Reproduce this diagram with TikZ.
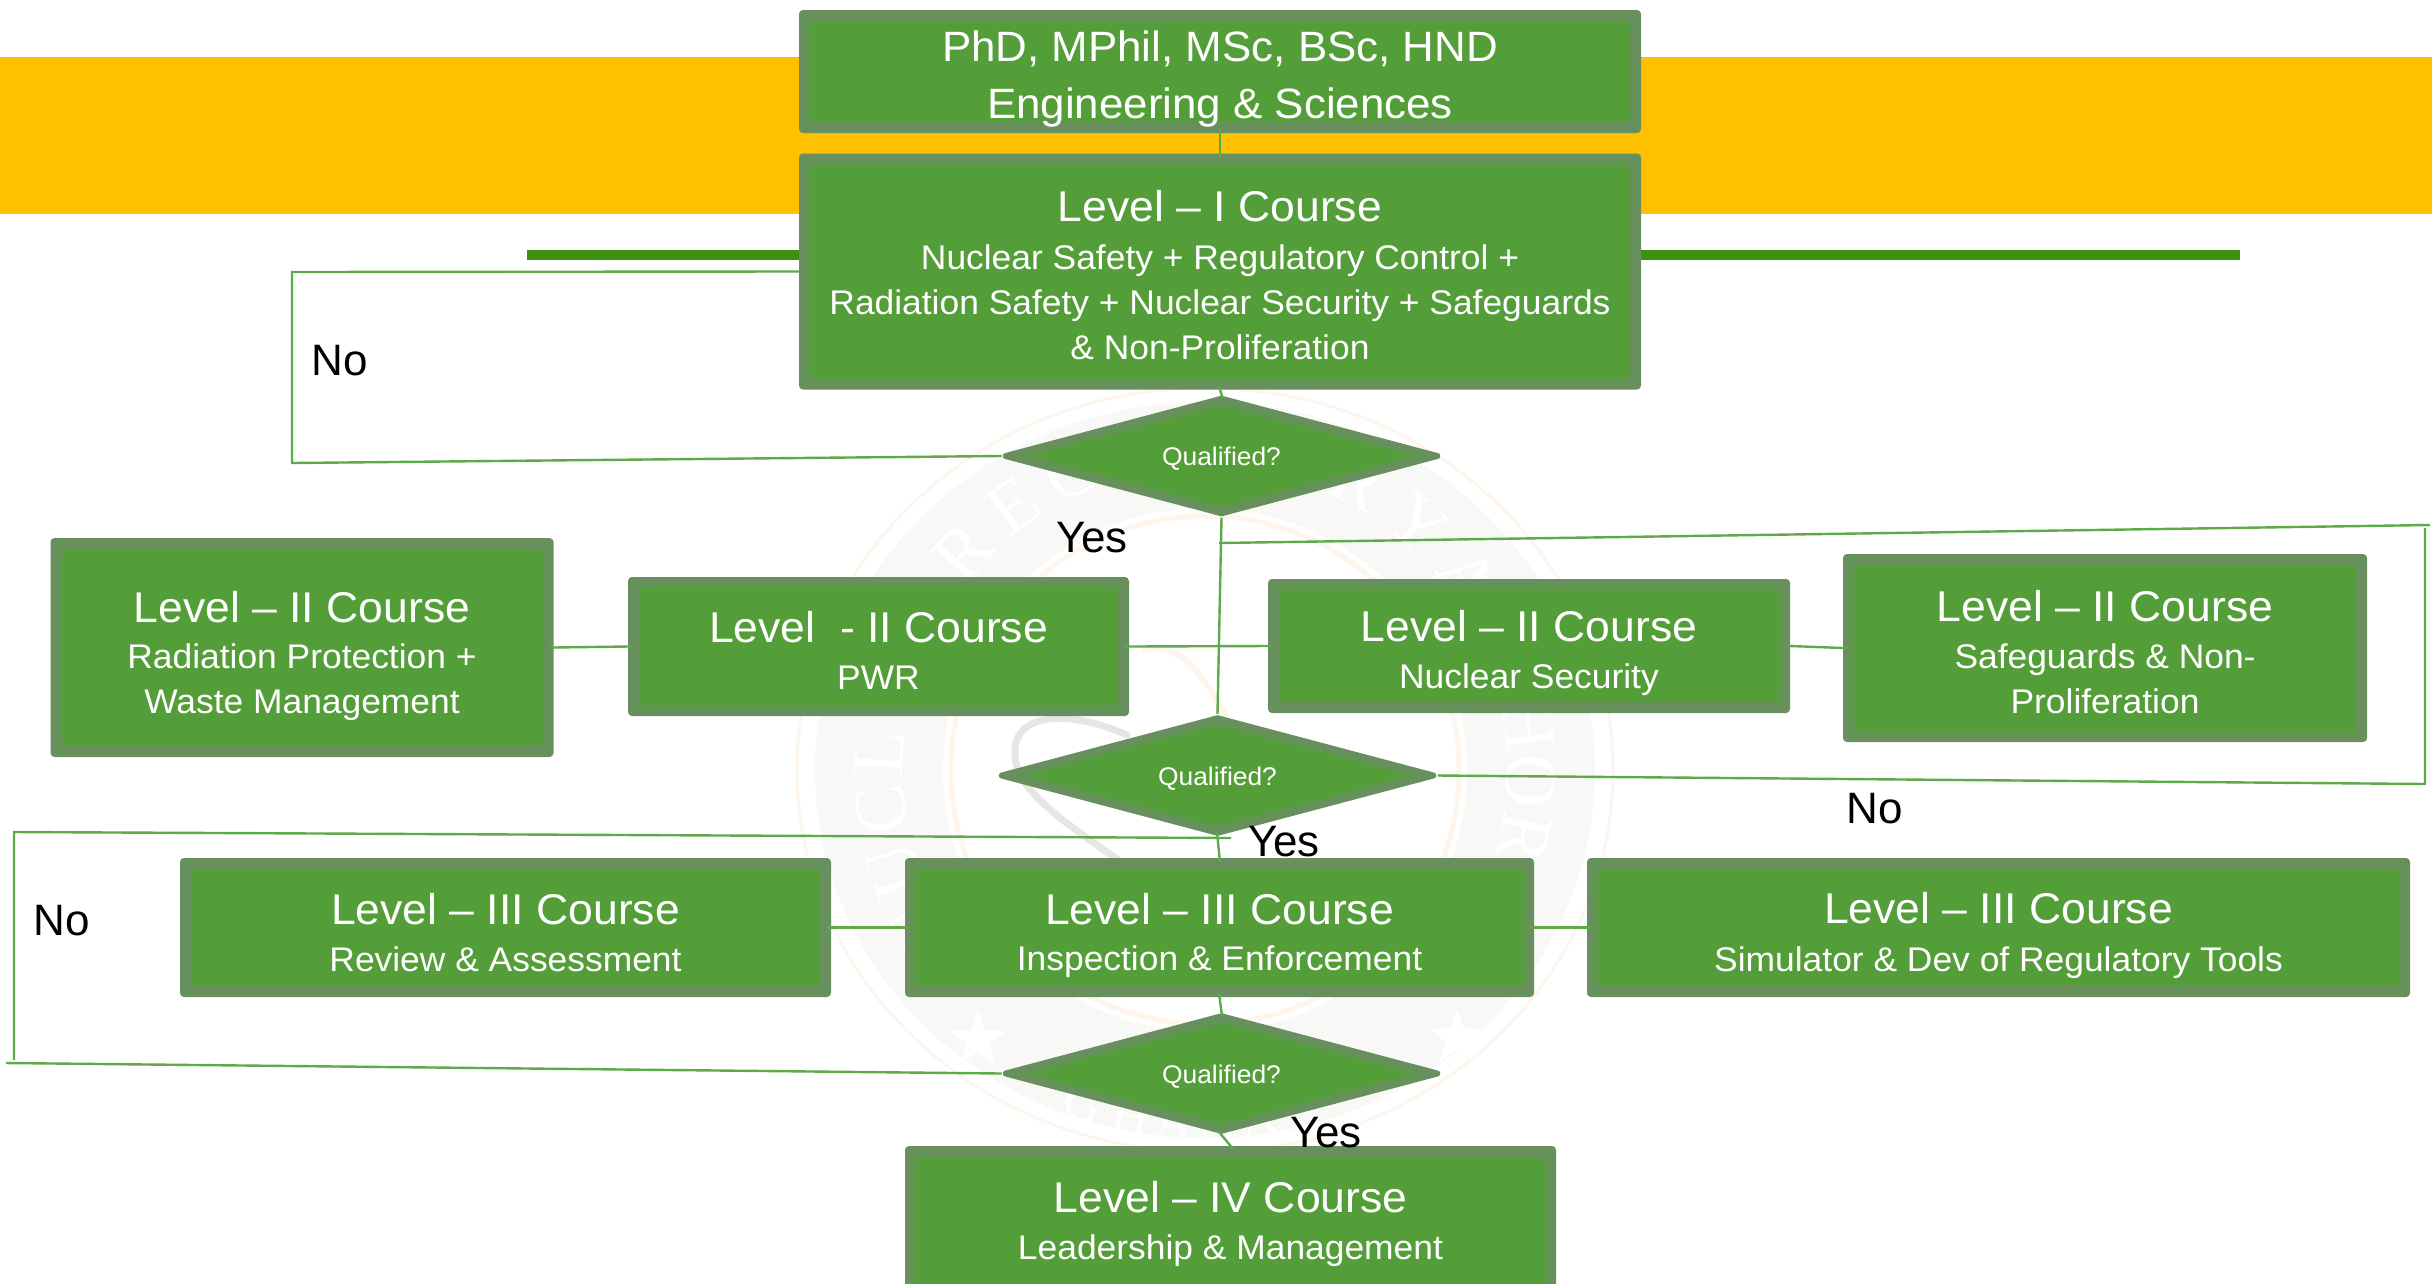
\documentclass[tikz,border=0pt]{standalone}
\usepackage{fontspec}
\setmainfont[FakeStretch=1.035]{Liberation Sans}
\newfontfamily\lblfont{Liberation Sans}
\newfontfamily\sealfont{Liberation Serif}
\usetikzlibrary{shapes.geometric,calc}
\definecolor{boxfill}{HTML}{549E39}
\definecolor{boxband}{HTML}{688F5E}
\definecolor{boxthin}{HTML}{5C9A46}
\definecolor{bandorange}{HTML}{FFC000}
\definecolor{bargreen}{HTML}{3D8F10}
\definecolor{connline}{HTML}{5CAA4A}
\definecolor{sealring}{HTML}{F8F9F6}
\definecolor{sealorange}{HTML}{FEF5EC}
\definecolor{sealatom}{HTML}{E6E6E4}
\newcommand{\LevHead}[1]{{\fontsize{43}{45}\selectfont #1}}
\newcommand{\TopHead}[1]{{\fontsize{42.4}{45}\selectfont #1}}
\newcommand{\TopGap}[1]{\rule{0pt}{#1pt}}
\newcommand{\BotGap}[1]{\rule[-#1pt]{0pt}{#1pt}}
\tikzset{
  boxnode/.style={rectangle,rounded corners=4pt,fill=boxband,text=white,inner sep=0pt,align=center,
    font=\fontsize{34.2}{45}\selectfont,
    path picture={
      \draw[boxthin,line width=1.2pt] ([shift={(7.4pt,-7.4pt)}]path picture bounding box.north west) rectangle ([shift={(-7.4pt,7.4pt)}]path picture bounding box.south east);
      \fill[boxfill] ([shift={(11pt,-11pt)}]path picture bounding box.north west) rectangle ([shift={(-11pt,11pt)}]path picture bounding box.south east);
    }},
  decision/.style={diamond,aspect=3.6,draw=boxband,line width=6pt,line join=round,fill=boxband,text=white,inner sep=0pt,
    minimum width=434pt,minimum height=117pt,font=\fontsize{25.5}{28}\selectfont,
    path picture={
      \draw[boxthin,line width=1.2pt] ($(path picture bounding box.west)+(16pt,0pt)$) -- ($(path picture bounding box.north)+(0pt,-4.5pt)$) -- ($(path picture bounding box.east)+(-16pt,0pt)$) -- ($(path picture bounding box.south)+(0pt,4.5pt)$) -- cycle;
      \fill[boxfill] ($(path picture bounding box.west)+(24pt,0pt)$) -- ($(path picture bounding box.north)+(0pt,-7pt)$) -- ($(path picture bounding box.east)+(-24pt,0pt)$) -- ($(path picture bounding box.south)+(0pt,7pt)$) -- cycle;
    }},
  conn/.style={draw=connline,line width=2.4pt,line join=miter},
  stub/.style={conn,shorten >=-4pt,shorten <=-4pt},
  lbl/.style={text=black,inner sep=0pt,font=\lblfont\fontsize{44}{46}\selectfont},
  sealstar/.style={star,star points=5,star point ratio=2.5,fill=white,inner sep=0pt,minimum size=58pt},
  sealtext/.style={text=white,inner sep=0pt,anchor=base,font=\sealfont\fontsize{74}{74}\selectfont},
  sealtextlow/.style={text=white,inner sep=0pt,anchor=base,font=\sealfont\fontsize{54}{54}\selectfont}
}
\begin{document}
\begin{tikzpicture}[x=1pt,y=-1pt]
\useasboundingbox (0,0) rectangle (2432,1283);
\clip (0,0) rectangle (2432,1283);
\fill[white] (0,0) rectangle (2432,1283);
% watermark seal
\fill[sealring,even odd rule] (1205,770) ellipse[x radius=390pt,y radius=368pt] (1205,770) ellipse[x radius=262pt,y radius=262pt];
\draw[sealorange,line width=3pt] (1205,770) ellipse[x radius=408pt,y radius=382pt];
\draw[sealorange,line width=5pt] (1205,770) circle[radius=254pt];
\draw[sealatom,line width=7pt,line cap=round] (1127,735) .. controls (1060,705) and (1000,715) .. (1018,770) .. controls (1030,800) and (1075,830) .. (1130,868);
\draw[sealorange,line width=6pt,line cap=round] (1145,650) .. controls (1170,640) and (1200,665) .. (1225,715);
\begin{scope}[shift={(1205,770)},x=1pt,y=1pt]
\foreach \ch/\ang in {N/209,U/198,C/187,L/177,R/138,E/126,G/114,R/62,Y/49,A/36,H/8,O/-2,R/-12}
  \node[sealtext,rotate=\ang-90] (seal\ang) at (\ang:302) {\ch};
\foreach \ch/\ang in {G/250,H/258,A/265,N/272,A/279}
  \node[sealtextlow,rotate=\ang+90] (seal\ang) at (\ang:372) {\ch};
\end{scope}
\node[sealstar] (starL) at (978,1040) {};
\node[sealstar] (starR) at (1457,1038) {};
% banner
\fill[bandorange] (0,57) rectangle (2432,214);
\fill[bargreen] (527,250) rectangle (2240,260);
% boxes
\node[boxnode,minimum width=842pt,minimum height=123pt] (top) at (1220,71.5) {\TopHead{\TopGap{51}PhD, MPhil, MSc, BSc, HND}\\[12pt]\TopHead{Engineering \& Sciences\BotGap{15}}};
\node[boxnode,minimum width=842pt,minimum height=235pt] (l1) at (1220,271.5) {\LevHead{\TopGap{68}Level – I Course}\\[3pt]Nuclear Safety + Regulatory Control +\\Radiation Safety + Nuclear Security + Safeguards\\\& Non-Proliferation\BotGap{30}};
\node[decision] (d1) at (1221.5,456) {\rule{0pt}{24pt}Qualified?};
\node[boxnode,minimum width=503pt,minimum height=219pt] (rad) at (302,647.5) {\LevHead{\TopGap{84}Level – II Course}\\[1pt]Radiation Protection +\\Waste Management\BotGap{43.5}};
\node[boxnode,minimum width=501pt,minimum height=139pt] (pwr) at (878.5,646.5) {\LevHead{\TopGap{65}Level\ \ - II Course}\\[2pt]PWR\BotGap{27}};
\node[boxnode,minimum width=522pt,minimum height=134pt] (ns) at (1529,646) {\LevHead{\TopGap{62}Level – II Course}\\[2pt]Nuclear Security\BotGap{24}};
\node[boxnode,minimum width=524pt,minimum height=188pt] (safe) at (2105,648) {\LevHead{\TopGap{67}Level – II Course}\\[2pt]Safeguards \& Non-\\Proliferation\BotGap{29}};
\node[decision] (d2) at (1217.5,775.5) {\rule{0pt}{24pt}Qualified?};
\node[boxnode,minimum width=651pt,minimum height=139pt] (rev) at (505.5,927.5) {\LevHead{\TopGap{66}Level – III Course}\\[2pt]Review \& Assessment\BotGap{26}};
\node[boxnode,minimum width=629pt,minimum height=139pt] (l3) at (1219.5,927.5) {\LevHead{\TopGap{66}Level – III Course}\\[1pt]Inspection \& Enforcement\BotGap{27}};
\node[boxnode,minimum width=823pt,minimum height=139pt] (sim) at (1998.5,927.5) {\LevHead{\TopGap{65.5}Level – III Course}\\[2.5pt]Simulator \& Dev of Regulatory Tools\BotGap{26}};
\node[decision] (d3) at (1221.5,1073.5) {\rule{0pt}{24pt}Qualified?};
\node[boxnode,minimum width=651pt,minimum height=154pt] (l4) at (1230.5,1223) {\LevHead{\TopGap{66}Level – IV Course}\\[2pt]Leadership \& Management\BotGap{41}};
% free ends
\coordinate (noa) at (292,272);
\coordinate (nob) at (292,463);
\coordinate (j1) at (1219,543);
\coordinate (ra) at (2430,525);
\coordinate (rb) at (2425,528);
\coordinate (rc) at (2425,784);
\coordinate (j2) at (1231,838);
\coordinate (la) at (14,832);
\coordinate (lb) at (14,1060);
\coordinate (lc) at (6,1063);
% connectors
\draw[stub] (top.south) -- (l1.north);
\draw[stub] (l1.south) -- (d1.north);
\draw[conn] (l1.west) -- (noa) -- (nob) -- (d1.west);
\draw[conn] (d1.south) -- (d2.north);
\draw[conn] (j1) -- (ra);
\draw[conn] (rb) -- (rc) -- (d2.east);
\draw[stub] (rad.east) -- (pwr.west);
\draw[stub] (pwr.east) -- (ns.west);
\draw[stub] (ns.east) -- (safe.west);
\draw[stub] (d2.south) -- (l3.north);
\draw[conn] (j2) -- (la) -- (lb);
\draw[conn] (lc) -- (d3.west);
\draw[stub] (rev.east) -- (l3.west);
\draw[stub] (l3.east) -- (sim.west);
\draw[stub] (l3.south) -- (d3.north);
\draw[stub] (d3.south) -- (l4.north);
% labels
\node[lbl] (no1) at (340,361) {No};
\node[lbl] (yes1) at (1092,538) {Yes};
\node[lbl] (yes2) at (1284,842) {Yes};
\node[lbl] (no2) at (1875,809) {No};
\node[lbl] (no3) at (62,921) {No};
\node[lbl] (yes3) at (1326,1133) {Yes};
\end{tikzpicture}
\end{document}
